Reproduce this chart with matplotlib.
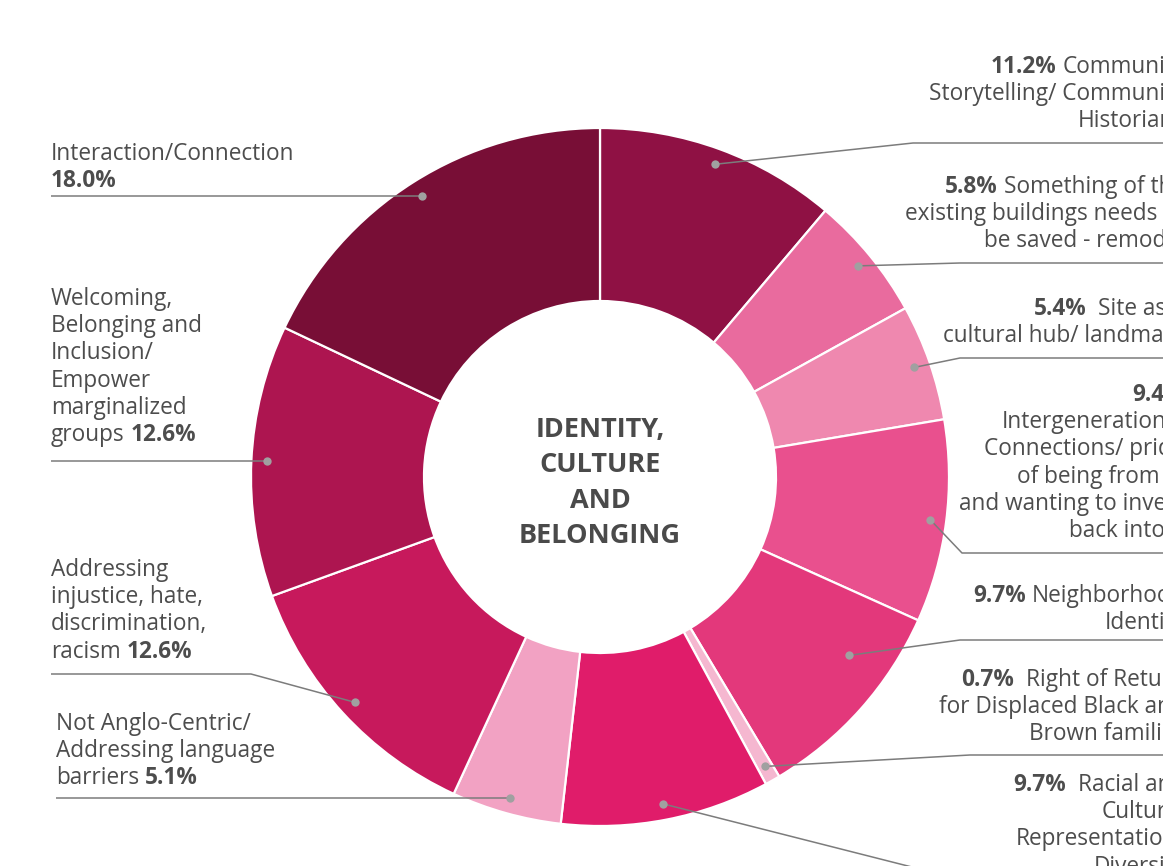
import matplotlib
matplotlib.use("Agg")
import matplotlib.pyplot as plt
import numpy as np

# ---------------- data ----------------
categories = [
    "Community Storytelling/ Community Historians",
    "Something of the existing buildings needs to be saved - remodel",
    "Site as a cultural hub/ landmark",
    "Intergenerational Connections/ pride of being from Jo and wanting to invest back into it",
    "Neighborhood Identity",
    "Right of Return for Displaced Black and Brown families",
    "Racial and Cultural Representation/ Diversity",
    "Not Anglo-Centric/ Addressing language barriers",
    "Addressing injustice, hate, discrimination, racism",
    "Welcoming, Belonging and Inclusion/ Empower marginalized groups",
    "Interaction/Connection",
]
values = [11.2, 5.8, 5.4, 9.4, 9.7, 0.7, 9.7, 5.1, 12.6, 12.6, 18.0]
colors = ["#8F1144", "#E96B9E", "#EF88AF", "#E9508E", "#E3387B", "#F5B7D0",
          "#E01C6A", "#F2A2C3", "#C7195C", "#AD1550", "#780E36"]
center_title = "IDENTITY,\nCULTURE\nAND\nBELONGING"

# label text, line by line; "{p}" marks the bold percentage
label_lines = [
    ["{p} Community", "Storytelling/ Community", "Historians"],
    ["{p} Something of the", "existing buildings needs to", "be saved - remodel"],
    ["{p}  Site as a", "cultural hub/ landmark"],
    ["{p}", "Intergenerational", "Connections/ pride", "of being from Jo",
     "and wanting to invest", "back into it"],
    ["{p} Neighborhood", "Identity"],
    ["{p}  Right of Return", "for Displaced Black and", "Brown families"],
    ["{p}  Racial and", "Cultural", "Representation/", "Diversity"],
    ["Not Anglo-Centric/", "Addressing language", "barriers {p}"],
    ["Addressing", "injustice, hate,", "discrimination,", "racism {p}"],
    ["Welcoming,", "Belonging and", "Inclusion/", "Empower", "marginalized", "groups {p}"],
    ["Interaction/Connection", "{p}"],
]

# ---------------- layout (pixels, y from top) ----------------
W, H = 1163, 866
CX, CY = 600, 477
R_OUT, RING = 349, 173
DOT_R = 333

# side, text x anchor, first line centre y, bend point (or None), line end x
layout = [
    ("R", 1185, 65, (913, 143), 1210),
    ("R", 1185, 185, (960, 263), 1210),
    ("R", 1185, 307, (960, 358), 1210),
    ("R", 1185, 393, (962, 553), 1210),
    ("R", 1185, 594, (960, 640), 1210),
    ("R", 1185, 678, (970, 755), 1210),
    ("R", 1185, 783, (963, 880), 1210),
    ("L", 56, 722, None, 56),
    ("L", 51, 568, (251, 674), 51),
    ("L", 51, 297, None, 51),
    ("L", 51, 152, None, 51),
]
dot_adjust = {4: (306, 6.0)}  # (radius, angle nudge in degrees)

FONT = ["Open Sans", "DejaVu Sans"]
TXT = "#4D4D4D"
LINE_C = "#7C7C7C"
DOT_C = "#A0A0A0"
FS = 16.3
LINE_SP = 27.2

fig = plt.figure(figsize=(W / 100, H / 100), dpi=100)
ax = fig.add_axes([0, 0, 1, 1])

wedges, _ = ax.pie(values, colors=colors, startangle=90, counterclock=False,
                   center=(CX, H - CY), radius=R_OUT,
                   wedgeprops=dict(width=RING, edgecolor="white", linewidth=1.6))
ax.set_aspect("auto")
ax.set_xlim(0, W)
ax.set_ylim(0, H)
ax.axis("off")

ax.text(CX, H - 483, center_title, ha="center", va="center", fontsize=19.5,
        fontweight="bold", color="#4A4A4A", family=FONT, linespacing=1.46)

renderer = fig.canvas.get_renderer()


def text_w(s, bold):
    t = ax.text(0, 0, s, fontsize=FS, fontweight="bold" if bold else "normal",
                family=FONT)
    w = t.get_window_extent(renderer).width
    t.remove()
    return w


SPACE = text_w("x x", False) - text_w("xx", False)


def split_line(line, pct):
    # returns list of [text, bold, spaces before]
    segs = []
    parts = line.split("{p}")
    for i, part in enumerate(parts):
        if i > 0:
            segs.append([pct, True, 0])
        if part.strip():
            lead = len(part) - len(part.lstrip(" "))
            segs.append([part.strip(" "), False, lead])
    for j in range(1, len(segs)):
        if segs[j][1] and not segs[j - 1][1]:
            prev_raw = parts[0]
            segs[j][2] = len(prev_raw) - len(prev_raw.rstrip(" "))
    return segs


def draw_line(x, y_px, segs, side):
    base = H - (y_px + 8)
    if side == "L":
        cur = x
        for k, (s, b, lead) in enumerate(segs):
            if k > 0:
                cur += lead * SPACE
            t = ax.text(cur, base, s, ha="left", va="baseline", fontsize=FS,
                        fontweight="bold" if b else "normal", color=TXT, family=FONT)
            cur += t.get_window_extent(renderer).width
    else:
        cur = x
        for k in range(len(segs) - 1, -1, -1):
            s, b, lead = segs[k]
            t = ax.text(cur, base, s, ha="right", va="baseline", fontsize=FS,
                        fontweight="bold" if b else "normal", color=TXT, family=FONT)
            cur -= t.get_window_extent(renderer).width
            cur -= lead * SPACE


for i, (w, v) in enumerate(zip(wedges, values)):
    mid = np.deg2rad((w.theta1 + w.theta2) / 2)
    r = DOT_R
    if i in dot_adjust:
        r, nudge = dot_adjust[i]
        mid += np.deg2rad(nudge)
    dx, dy = CX + r * np.cos(mid), (H - CY) + r * np.sin(mid)

    side, tx, fy, bend, xend = layout[i]
    if bend is None:
        xs, ys = [dx, xend], [dy, dy]
    else:
        bx, by = bend
        xs, ys = [dx, bx, xend], [dy, H - by, H - by]
    ax.plot(xs, ys, color=LINE_C, lw=1.1, solid_capstyle="butt", zorder=3)
    ax.plot([dx], [dy], "o", color=DOT_C, ms=6, mec="none", zorder=4)

    pct = f"{v:.1f}%"
    for j, line in enumerate(label_lines[i]):
        draw_line(tx, fy + j * LINE_SP, split_line(line, pct), side)

fig.savefig("out.png", dpi=100)
